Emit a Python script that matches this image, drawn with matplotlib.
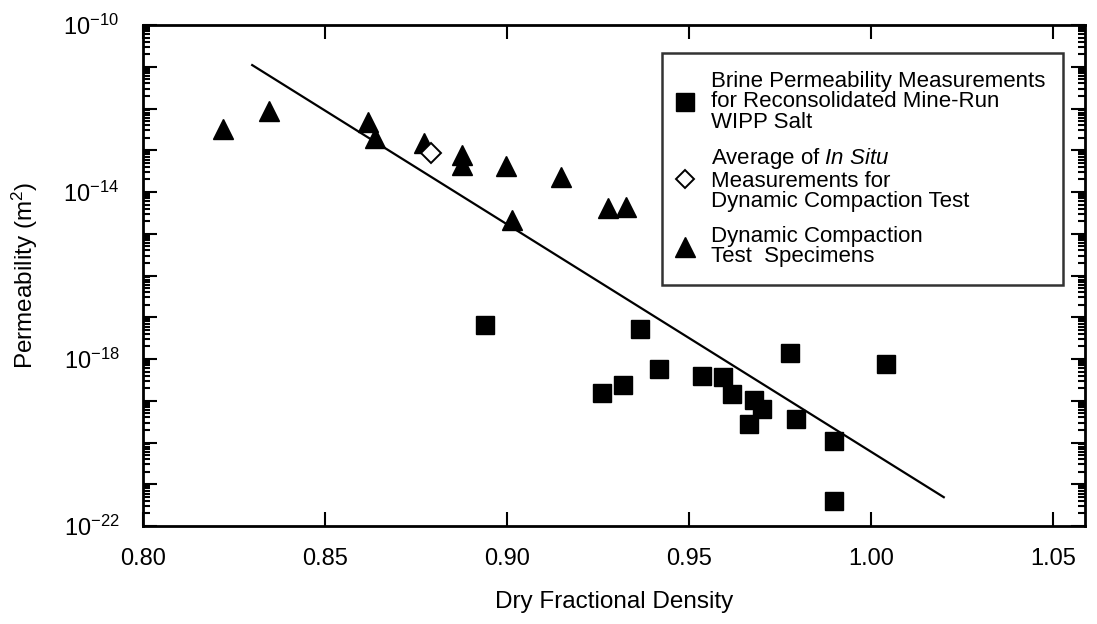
import matplotlib
matplotlib.use("Agg")
import matplotlib.pyplot as plt
from matplotlib.lines import Line2D
from matplotlib.ticker import LogLocator, FixedLocator, NullFormatter
import numpy as np

plt.rcParams['font.family'] = ['Liberation Sans', 'DejaVu Sans']
plt.rcParams['mathtext.fontset'] = 'custom'
plt.rcParams['mathtext.rm'] = 'Liberation Sans'
plt.rcParams['mathtext.it'] = 'Liberation Sans:italic'

# Reconsolidated mine-run WIPP salt (squares)
sq_x = [0.894, 0.9365, 0.926, 0.932, 0.9417, 0.9535, 0.9594, 0.9617,
        0.968, 0.970, 0.9666, 0.9777, 0.9794, 0.9898, 0.9898, 1.0041]
sq_logk = [-17.19, -17.27, -18.82, -18.62, -18.25, -18.40, -18.44, -18.85,
           -18.98, -19.20, -19.56, -17.86, -19.44, -19.96, -21.40, -18.13]

# Average of in situ measurements (diamond)
dia_x = [0.879]
dia_logk = [-13.06]

# Dynamic compaction test specimens (triangles)
tri_x = [0.8219, 0.8345, 0.8617, 0.8638, 0.8771, 0.8876, 0.8876,
         0.8997, 0.9149, 0.9014, 0.9277, 0.9327]
tri_logk = [-12.49, -12.05, -12.32, -12.70, -12.83, -13.11, -13.35,
            -13.37, -13.65, -14.67, -14.39, -14.37]

# Fitted line endpoints
fit_x = [0.83, 1.02]
fit_logk = [-10.96, -21.31]

x_ticks = [0.80, 0.85, 0.90, 0.95, 1.00, 1.05]
x_ticklabels = ['0.80', '0.85', '0.90', '0.95', '1.00', '1.05']
y_exponents = list(range(-22, -9))
y_labelled = [-10, -14, -18, -22]

W, H = 1097, 624
fig = plt.figure(figsize=(W / 100, H / 100), dpi=100)
ax = fig.add_axes([143 / W, 1 - 526 / H, (1085 - 143) / W, (526 - 25) / H])

ax.set_yscale('log')
ax.plot(fit_x, 10.0 ** np.array(fit_logk), color='black', lw=1.6, zorder=2)
ax.plot(sq_x, 10.0 ** np.array(sq_logk), 's', color='black', ms=13.5,
        mec='black', ls='none', zorder=3)
ax.plot(dia_x, 10.0 ** np.array(dia_logk), 'D', mfc='white', mec='black',
        ms=10, mew=1.4, ls='none', zorder=4)
ax.plot(tri_x, 10.0 ** np.array(tri_logk), '^', color='black', ms=14,
        ls='none', zorder=3)

ax.set_xlim(0.80, 1.0588)
ax.set_ylim(1e-22, 1e-10)

ax.set_xticks(x_ticks)
ax.set_xticklabels(x_ticklabels)

ax.yaxis.set_major_locator(FixedLocator([10.0 ** e for e in y_exponents]))
ax.set_yticklabels([r'$10^{%d}$' % e if e in y_labelled else '' for e in y_exponents])
ax.yaxis.set_minor_locator(LogLocator(base=10, subs=np.arange(2, 10), numticks=100))
ax.yaxis.set_minor_formatter(NullFormatter())

ax.tick_params(which='both', direction='in', top=True, right=True, width=1.5)
ax.tick_params(which='major', length=10, labelsize=17)
ax.tick_params(axis='x', which='major', pad=16)
ax.tick_params(axis='y', which='major', pad=17)
ax.tick_params(which='minor', length=5)
for s in ax.spines.values():
    s.set_linewidth(2)

ax.set_xlabel('Dry Fractional Density', fontsize=17.5, labelpad=15)
ax.set_ylabel(r'Permeability (m$^2$)', fontsize=17.5, labelpad=17)

handles = [
    Line2D([], [], marker='s', color='black', ms=13, ls='none'),
    Line2D([], [], marker='D', mfc='white', mec='black', ms=9, mew=1.4, ls='none'),
    Line2D([], [], marker='^', color='black', ms=14, ls='none'),
]
labels = [
    'Brine Permeability Measurements\nfor Reconsolidated Mine-Run\nWIPP Salt',
    'Average of $\\it{In\\ Situ}$\nMeasurements for\nDynamic Compaction Test',
    'Dynamic Compaction\nTest  Specimens',
]
leg = ax.legend(handles, labels, loc='upper right', bbox_to_anchor=(0.9766, 0.944),
                fontsize=16, frameon=True, fancybox=False, edgecolor='black',
                handletextpad=0.95, handlelength=0.45, borderpad=0.8,
                labelspacing=0.6, borderaxespad=0)
leg.get_frame().set_linewidth(1.8)
for t in leg.get_texts():
    t.set_linespacing(0.97)

fig.savefig('out.png', dpi=100)
